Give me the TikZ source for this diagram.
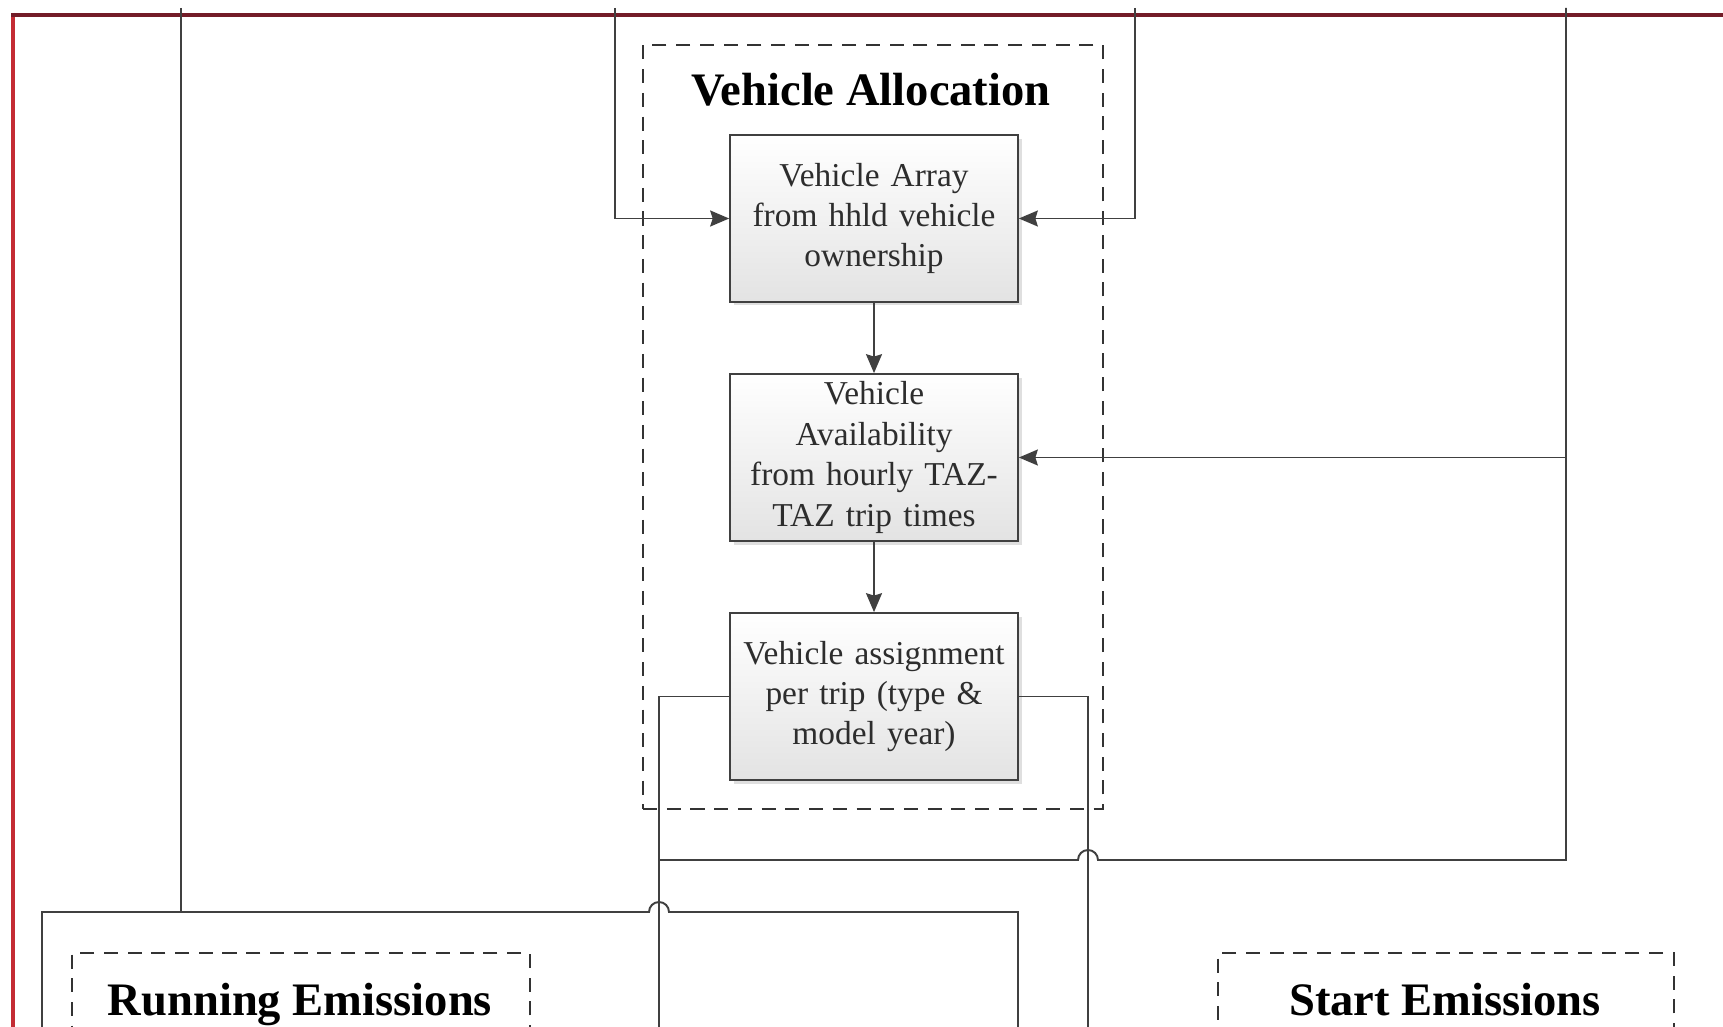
\documentclass[tikz,border=0pt]{standalone}
\usepackage{fontspec}
\setmainfont{Liberation Serif}
\usetikzlibrary{arrows.meta, positioning, shadows}
\definecolor{frameTop}{RGB}{115,28,40}
\definecolor{frameSide}{RGB}{196,44,52}
\definecolor{wireGray}{RGB}{64,64,64}
\definecolor{boxText}{RGB}{45,45,45}

\begin{document}
\begin{tikzpicture}[x=0.02cm, y=-0.02cm,
    blk/.style={draw=wireGray, line width=1pt, top color=white, bottom color=black!11,
                minimum width=5.76cm, minimum height=3.34cm, text width=5.6cm,
                align=center, inner sep=0pt, text=boxText,
                font=\fontsize{19}{23}\selectfont,
                drop shadow={opacity=0.25, shadow xshift=2pt, shadow yshift=-2pt}},
    grp/.style={draw=black!80, dash pattern=on 8pt off 5.5pt, line width=0.9pt, inner sep=0pt},
    ttl/.style={font=\fontsize{26.5}{30}\selectfont\bfseries},
    ln/.style={draw=wireGray, line width=1.1pt},
    arr/.style={ln, -{Stealth[length=0.38cm, width=0.32cm, inset=0.05cm]}}
  ]
  \useasboundingbox (0,0) rectangle (1723,1027);
  \clip (0,0) rectangle (1723,1027);
  \fill[white] (0,0) rectangle (1723,1027);
  % outer frame
  \draw[frameSide, line width=0.08cm] (13,13) -- (13,1040);
  \draw[frameTop, line width=0.09cm] (11,15) -- (1740,15);

  % containers
  \node[grp, minimum width=9.2cm, minimum height=15.28cm] (alloc) at (873,427) {};
  \node[ttl] (allocTitle) at (871,90) {Vehicle Allocation};
  \node[grp, minimum width=9.16cm, minimum height=3cm] (running) at (301,1028) {};
  \node[ttl, anchor=base] (runTitle) at (300,1015) {Running Emissions};
  \node[grp, minimum width=9.12cm, minimum height=3cm] (start) at (1446,1028) {};
  \node[ttl, anchor=base] (startTitle) at (1445,1015) {Start Emissions};

  % steps
  \node[blk] (vArray)  at (874,218.5) {Vehicle Array\\from hhld vehicle\\ownership};
  \node[blk] (vAvail)  at (874,457.5) {Vehicle\\Availability\\from hourly TAZ-\\TAZ trip times};
  \node[blk] (vAssign) at (874,696.5) {Vehicle assignment\\per trip (type \&\\model year)};

  \coordinate (inRun)  at (181,8);
  \coordinate (inL)    at (615,8);
  \coordinate (inR)    at (1135,8);
  \coordinate (inFar)  at (1566,8);
  \coordinate (outL)   at (659,1040);
  \coordinate (outR)   at (1088,1040);
  \coordinate (runL)   at (42,1040);
  \coordinate (runR)   at (1018,1040);

  % inputs
  \draw[arr] (inL) |- (vArray.west);
  \draw[arr] (inR) |- (vArray.east);
  \draw[arr] (vArray.south) -- (vAvail.north);
  \draw[arr] (vAvail.south) -- (vAssign.north);
  \draw[arr] (inFar |- vAvail) -- (vAvail.east);
  \draw[ln] (inFar) -- (1566,860) -- (1098,860)
    arc[start angle=0, end angle=180, radius=0.2cm] -- (659,860);

  % outputs
  \draw[ln] (vAssign.west) -| (outL);
  \draw[ln] (vAssign.east) -| (outR);
  \draw[ln] (runL) |- (649,912)
    arc[start angle=180, end angle=0, radius=0.2cm] -| (runR);
  \draw[ln] (inRun) -- (181,912);
\end{tikzpicture}
\end{document}
